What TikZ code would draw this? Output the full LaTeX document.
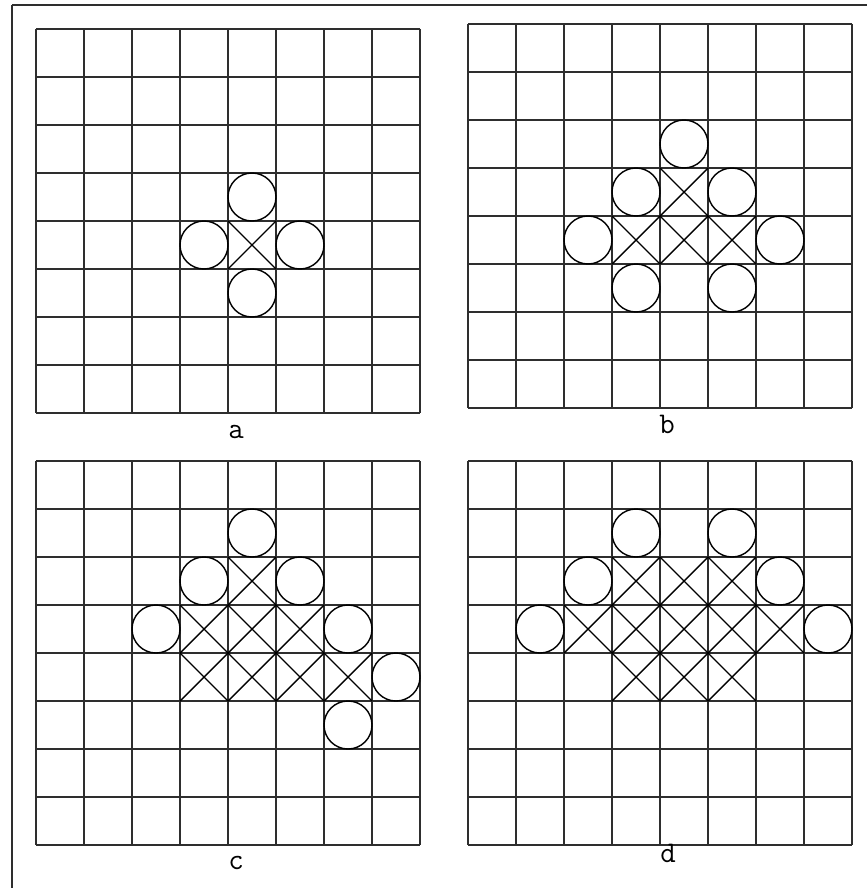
\documentclass[tikz,border=0pt]{standalone}
\begin{document}
\begin{tikzpicture}[x=1pt,y=-1pt,
  gridline/.style={line width=1.7pt,draw=black!82},
  cellmark/.style={line width=1.4pt,draw=black},
  lab/.style={font=\ttfamily\fontsize{30}{30}\selectfont,inner sep=0pt,anchor=base}]
\useasboundingbox (0,0) rectangle (867,888);
\fill[white] (0,0) rectangle (867,888);
% outer frame (top and left visible)
\draw[gridline] (12,5) -- (867,5);
\draw[gridline] (12,5) -- (12,888);
% grids
\foreach \ox/\oy in {36/29,468/24,36/461,468/461}{
  \foreach \i in {0,...,8}{
    \draw[gridline] (\ox+\i*48,\oy) -- (\ox+\i*48,\oy+384);
    \draw[gridline] (\ox,\oy+\i*48) -- (\ox+384,\oy+\i*48);
  }
}
% crosses and circles: grid origin, col, row
\def\xcell#1#2#3#4{\draw[cellmark] (#1+#3*48,#2+#4*48) -- (#1+#3*48+48,#2+#4*48+48)
  (#1+#3*48+48,#2+#4*48) -- (#1+#3*48,#2+#4*48+48);}
\def\ocell#1#2#3#4{\draw[cellmark] (#1+#3*48+24,#2+#4*48+24) circle[radius=24];}
% grid a
\foreach \c/\r in {4/4}{\xcell{36}{29}{\c}{\r}}
\foreach \c/\r in {4/3,3/4,5/4,4/5}{\ocell{36}{29}{\c}{\r}}
% grid b
\foreach \c/\r in {4/3,3/4,4/4,5/4}{\xcell{468}{24}{\c}{\r}}
\foreach \c/\r in {4/2,3/3,5/3,2/4,6/4,3/5,5/5}{\ocell{468}{24}{\c}{\r}}
% grid c
\foreach \c/\r in {4/2,3/3,4/3,5/3,3/4,4/4,5/4,6/4}{\xcell{36}{461}{\c}{\r}}
\foreach \c/\r in {4/1,3/2,5/2,2/3,6/3,7/4,6/5}{\ocell{36}{461}{\c}{\r}}
% grid d
\foreach \c/\r in {3/2,4/2,5/2,2/3,3/3,4/3,5/3,6/3,3/4,4/4,5/4}{\xcell{468}{461}{\c}{\r}}
\foreach \c/\r in {3/1,5/1,2/2,6/2,1/3,7/3}{\ocell{468}{461}{\c}{\r}}
% labels
\node[lab] (la) at (236,438) {a};
\node[lab] (lb) at (667,433) {b};
\node[lab] (lc) at (236,869) {c};
\node[lab] (ld) at (668,862) {d};
\end{tikzpicture}
\end{document}
